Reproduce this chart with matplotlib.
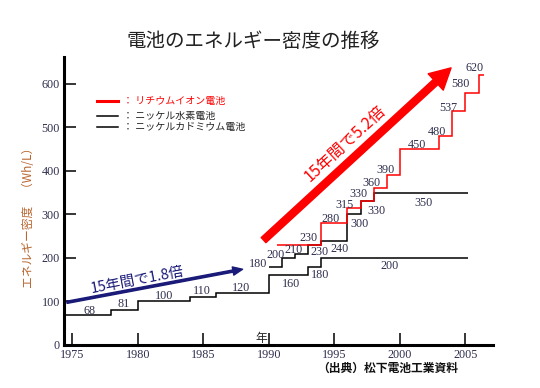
import matplotlib.pyplot as plt
from matplotlib.lines import Line2D

plt.rcParams['font.family'] = ['Noto Sans CJK JP', 'DejaVu Sans']

# ---- data ----
li_name = "リチウムイオン電池"
nimh_name = "ニッケル水素電池"
nicd_name = "ニッケルカドミウム電池"

li_years = [1990.6, 1994, 1996, 1997, 1998, 1999, 2000, 2003, 2004, 2005, 2006, 2006.45]
li_values = [230, 280, 315, 330, 360, 390, 450, 480, 537, 580, 620]

nimh_years = [1990, 1991, 1992, 1993, 1994, 1996, 1997, 1998, 2005.2]
nimh_values = [180, 200, 210, 230, 240, 300, 330, 350]

nicd_years = [1974.4, 1978, 1980, 1984, 1986, 1990, 1993, 1994, 2005.2]
nicd_values = [68, 81, 100, 110, 120, 160, 180, 200]

# label anchor positions (layout only)
li_lbl_x = [1993.0, 1994.7, 1995.8, 1996.8, 1997.8, 1998.9, 2001.3, 2002.8, 2003.7, 2004.6, 2005.7]
li_lbl_y = [246, 289, 322, 347, 372, 402, 459, 490, 544, 599, 637]
nimh_lbl_x = [1989.2, 1990.5, 1991.9, 1993.9, 1995.4, 1996.9, 1998.2, 2001.8]
nimh_lbl_y = [186, 207, 219, 213, 221, 278, 308, 327]
nicd_lbl_x = [1976.3, 1978.9, 1982.0, 1984.9, 1987.85, 1991.7, 1993.9, 1999.2]
nicd_lbl_y = [79, 94, 113, 125, 131, 141, 161, 182]

x_ticks = [1975, 1980, 1985, 1990, 1995, 2000, 2005]
y_ticks = [0, 100, 200, 300, 400, 500, 600]

title = "電池のエネルギー密度の推移"
ylabel = "エネルギー密度　（Wh/L）"
source = "（出典）松下電池工業資料"
blue_note = "15年間で1.8倍"
red_note = "15年間で5.2倍"

num_color = '#2e2e4e'
serif = 'Liberation Serif'

fig = plt.figure(figsize=(5.4, 3.88), dpi=100)
ax = fig.add_axes([0.119, 0.111, 0.794, 0.741])

ax.stairs(nicd_values, nicd_years, baseline=None, color='black', lw=1.1)
ax.stairs(nimh_values, nimh_years, baseline=None, color='black', lw=1.1)
ax.stairs(li_values, li_years, baseline=None, color='red', lw=1.1)

for xs, ys, vals in [(nicd_lbl_x, nicd_lbl_y, nicd_values),
                     (nimh_lbl_x, nimh_lbl_y, nimh_values),
                     (li_lbl_x, li_lbl_y, li_values)]:
    for x, y, v in zip(xs, ys, vals):
        ax.text(x, y, str(v), ha='center', va='center', fontsize=8.7,
                family=serif, color=num_color)

# arrows
ax.annotate('', xy=(1988.0, 174), xytext=(1974.6, 98),
            arrowprops=dict(width=1.6, headwidth=6, headlength=7,
                            color='#1a1a78', shrink=0))
ax.text(1980.0, 149, blue_note, rotation=10.7, rotation_mode='anchor',
        ha='center', va='center', fontsize=10.5, color='#1a1a78')

ax.annotate('', xy=(2003.9, 637), xytext=(1989.6, 241),
            arrowprops=dict(width=5, headwidth=16, headlength=15,
                            color='red', shrink=0))
ax.text(1995.8, 462, red_note, rotation=42.6, rotation_mode='anchor',
        ha='center', va='center', fontsize=11.5, color='red')

ax.set_xlim(1974.4, 2007.1)
ax.set_ylim(0, 661)
ax.set_xticks(x_ticks)
ax.set_yticks(y_ticks)
ax.tick_params(direction='in', length=8.5, width=1.1, labelsize=8.7,
               labelcolor=num_color, pad=3)
for lab in ax.get_xticklabels() + ax.get_yticklabels():
    lab.set_family(serif)
for s in ['top', 'right']:
    ax.spines[s].set_visible(False)
for s in ['left', 'bottom']:
    ax.spines[s].set_linewidth(2.2)

ax.text(1989.45, 14, "年", ha='center', va='center', fontsize=8.5, color='#222222')

# legend drawn by hand
legend_rows = [(li_name, 'red', 2.2, 100.7), (nimh_name, 'black', 1.1, 115.7),
               (nicd_name, 'black', 1.1, 126.7)]
for name, col, lw, py in legend_rows:
    fy = 1 - py / 388
    fig.add_artist(Line2D([96.7 / 540, 118.3 / 540], [fy, fy], color=col, lw=lw))
    fig.text(123 / 540, fy, "： " + name, ha='left', va='center', fontsize=7.2,
             color=col if col == 'red' else '#222222')

fig.text(253 / 540, 1 - 41.7 / 388, title, ha='center', va='center', fontsize=14,
         color='#222222')
fig.text(29 / 540, 1 - 215 / 388, ylabel, rotation=90, ha='center', va='center',
         fontsize=8.5, color='#b8652e')
fig.text(388 / 540, 1 - 368.3 / 388, source, ha='center', va='center', fontsize=8.5,
         fontweight='bold', color='#111111')

fig.savefig('out.png', dpi=100)
